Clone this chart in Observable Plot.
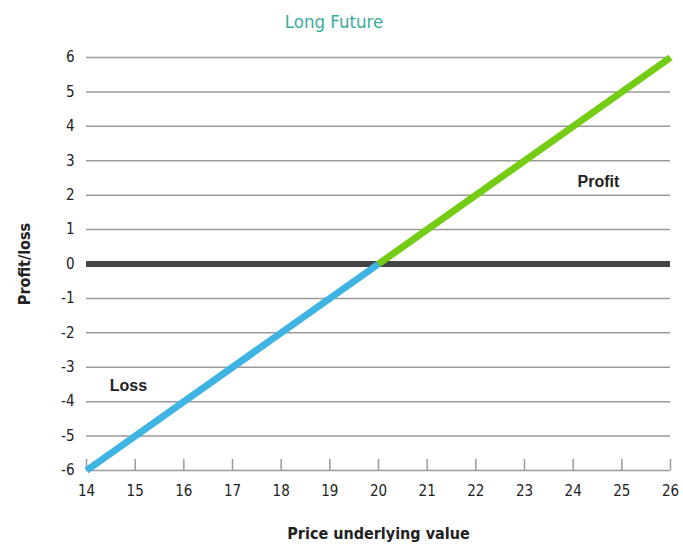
<!DOCTYPE html>
<html>
<head>
<meta charset="utf-8">
<script src="https://cdn.jsdelivr.net/npm/d3@7"></script>
<script src="https://cdn.jsdelivr.net/npm/@observablehq/plot@0.6"></script>
<style>
  body { margin: 0; background: #fff; }
  #title { height: 40px; line-height: 44px; text-align: center; padding-right: 15px;
           font-family: "DejaVu Sans Condensed", "DejaVu Sans", sans-serif; font-size: 18.5px; color: #3aab9c; }
  svg { display: block; }
</style>
</head>
<body>
<div id="title">Long Future</div>
<div id="chart"></div>
<script>
const xTicks = [14, 15, 16, 17, 18, 19, 20, 21, 22, 23, 24, 25, 26];
const yTicks = [-6, -5, -4, -3, -2, -1, 0, 1, 2, 3, 4, 5, 6];
const lossPrice = [14, 20];
const lossValue = [-6, 0];
const profitPrice = [20, 26];
const profitValue = [0, 6];
const labels = ["Loss", "Profit"];
const labelPrice = [14.86, 24.52];
const labelValue = [-3.55, 2.4];

const loss = lossPrice.map((p, i) => ({price: p, value: lossValue[i]}));
const profit = profitPrice.map((p, i) => ({price: p, value: profitValue[i]}));
const notes = labels.map((t, i) => ({text: t, price: labelPrice[i], value: labelValue[i]}));

const font = '"DejaVu Sans Condensed", "DejaVu Sans", sans-serif';

const chart = Plot.plot({
  width: 683,
  height: 505,
  marginLeft: 86,
  marginRight: 13,
  marginTop: 17,
  marginBottom: 75,
  style: {fontFamily: font, fontSize: "15px", color: "#222", background: "#fff"},
  x: {domain: [14, 26]},
  y: {domain: [-6, 6]},
  marks: [
    Plot.ruleY(yTicks, {y: d => d, stroke: "#9a9a9a", strokeWidth: 1.5}),
    Plot.ruleX(xTicks, {x: d => d, y1: -6, y2: -5.68, stroke: "#9a9a9a", strokeWidth: 1.5}),
    Plot.ruleY([0], {stroke: "#444", strokeWidth: 6}),
    Plot.line(loss, {x: "price", y: "value", stroke: "#3fb4e2", strokeWidth: 7, strokeLinecap: "butt"}),
    Plot.line(profit, {x: "price", y: "value", stroke: "#74cc14", strokeWidth: 7, strokeLinecap: "butt"}),
    Plot.text(notes, {x: "price", y: "value", text: "text", fontWeight: "bold", fontSize: 16, fill: "#222",
      fontFamily: '"Liberation Sans", Arial, sans-serif'}),
    Plot.axisY(yTicks, {tickSize: 0, tickPadding: 12, fontSize: 15, fill: "#222", tickFormat: d => String(d),
      label: "Profit/loss", labelAnchor: "center", labelOffset: 68, labelArrow: "none"}),
    Plot.axisX(xTicks, {tickSize: 0, tickPadding: 15, fontSize: 15, fill: "#222", tickFormat: d => String(d),
      label: "Price underlying value", labelAnchor: "center", labelOffset: 68, labelArrow: "none"})
  ]
});
document.getElementById("chart").appendChild(chart);
d3.select(chart).selectAll('[aria-label$="axis label"] text, g[aria-label$="axis label"]')
  .attr("font-weight", "bold").attr("font-size", 16);
</script>
</body>
</html>
